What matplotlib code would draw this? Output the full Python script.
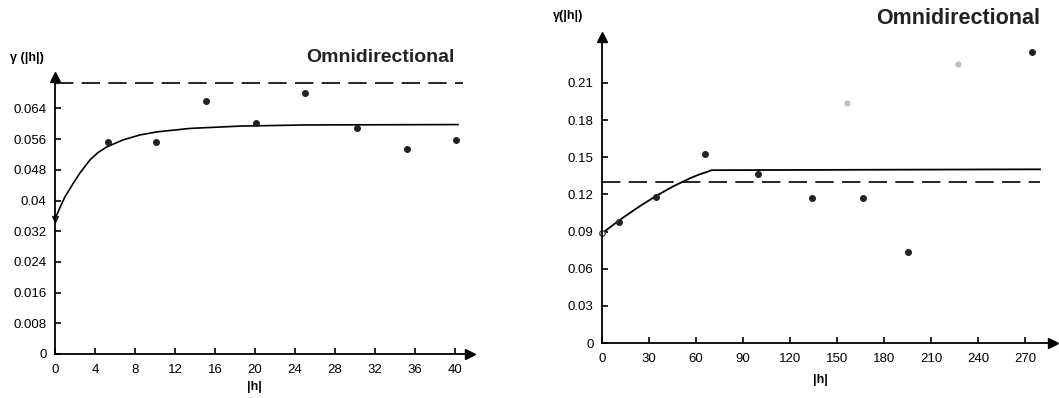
import matplotlib.pyplot as plt

plt.rcParams['font.family'] = ['Liberation Sans', 'DejaVu Sans']

# left panel: experimental variogram points
left_h = [0, 5.3, 10.1, 15.1, 20.1, 25.0, 30.2, 35.2, 40.1]
left_g = [0.0352, 0.0552, 0.0552, 0.0659, 0.0602, 0.0680, 0.0589, 0.0534, 0.0558]
# fitted model
left_fit_h = [0, 0.5, 1, 1.83, 2.5, 3.5, 4.3, 5.2, 6.8, 8.5, 10.2, 13.5, 18.5, 25, 40.3]
left_fit_g = [0.0352, 0.0382, 0.0410, 0.0445, 0.0472, 0.0506, 0.0525, 0.0540, 0.0558,
              0.0571, 0.0579, 0.0588, 0.0594, 0.0597, 0.0598]
left_sill = 0.0706
left_xticks = [0, 4, 8, 12, 16, 20, 24, 28, 32, 36, 40]
left_yticks = [0, 0.008, 0.016, 0.024, 0.032, 0.04, 0.048, 0.056, 0.064]
left_ylabels = ['0', '0.008', '0.016', '0.024', '0.032', '0.04', '0.048', '0.056', '0.064']

# right panel
right_h = [10.8, 34.5, 65.7, 99.6, 134, 166.5, 195.5, 274.5]
right_g = [0.0977, 0.118, 0.1527, 0.1365, 0.117, 0.117, 0.0735, 0.235]
right_faint_h = [156.5, 227]
right_faint_g = [0.194, 0.2254]
right_fit_h = [0, 11.5, 24.2, 34.9, 45.5, 56.2, 62, 66.8, 70, 279.5]
right_fit_g = [0.0885, 0.0995, 0.1105, 0.1190, 0.1265, 0.1330, 0.1360, 0.1380, 0.1395, 0.1402]
right_sill = 0.1303
right_xticks = [0, 30, 60, 90, 120, 150, 180, 210, 240, 270]
right_yticks = [0, 0.03, 0.06, 0.09, 0.12, 0.15, 0.18, 0.21]
right_ylabels = ['0', '0.03', '0.06', '0.09', '0.12', '0.15', '0.18', '0.21']

W, H = 1059, 398
fig = plt.figure(figsize=(W / 100, H / 100), dpi=100)


def make_axes(x0, y0, x1, y1):
    return fig.add_axes([x0 / W, 1 - y0 / H, (x1 - x0) / W, (y0 - y1) / H])


def style(ax, xmax, ymax, xticks, yticks, ylabels):
    ax.set_xlim(0, xmax)
    ax.set_ylim(0, ymax)
    for s in ['top', 'right']:
        ax.spines[s].set_visible(False)
    for s in ['left', 'bottom']:
        ax.spines[s].set_linewidth(1.3)
    ax.set_xticks(xticks)
    ax.set_xticklabels([str(t) for t in xticks])
    ax.set_yticks(yticks)
    ax.set_yticklabels(ylabels)
    ax.tick_params(direction='in', length=4, width=1.2, labelsize=9.5)
    ax.tick_params(axis='x', pad=7)
    ax.tick_params(axis='y', pad=6)
    ax.plot(1, 0, marker='>', ms=7, color='black', transform=ax.transAxes, clip_on=False)
    ax.plot(0, 1, marker='^', ms=7, color='black', transform=ax.transAxes, clip_on=False)


# left chart
ax1 = make_axes(55, 354, 470, 77)
style(ax1, 41.5, 0.0722, left_xticks, left_yticks, left_ylabels)
ax1.plot([0, 40.8], [left_sill, left_sill], color='black', lw=1.2, dashes=(11, 5))
ax1.plot(left_fit_h, left_fit_g, color='black', lw=1.2)
ax1.plot(left_h[1:], left_g[1:], 'o', color='#222222', ms=4)
ax1.plot(left_h[:1], left_g[:1], 'v', color='#222222', ms=5, clip_on=False)
fig.text(455 / W, 1 - 58 / H, 'Omnidirectional', ha='right', va='center',
         fontsize=14, fontweight='bold', color='#222222')
fig.text(10 / W, 1 - 58 / H, 'γ (|h|)', ha='left', va='center', fontsize=9,
         fontweight='bold')
fig.text(254 / W, 1 - 387 / H, '|h|', ha='center', va='center', fontsize=9,
         fontweight='bold')

# right chart
ax2 = make_axes(602, 343, 1053, 37)
style(ax2, 287.8, 0.247, right_xticks, right_yticks, right_ylabels)
ax2.plot([0, 279.5], [right_sill, right_sill], color='black', lw=1.2, dashes=(11, 5))
ax2.plot(right_fit_h, right_fit_g, color='black', lw=1.3)
ax2.plot(right_h, right_g, 'o', color='#222222', ms=4)
ax2.plot(right_faint_h, right_faint_g, 'o', color='#b8c4c8', ms=3.5)
ax2.plot(right_fit_h[:1], right_fit_g[:1], 'o', mfc='white', mec='#444444', ms=4,
         clip_on=False)
fig.text(1040 / W, 1 - 18 / H, 'Omnidirectional', ha='right', va='center',
         fontsize=15.5, fontweight='bold', color='#222222')
fig.text(553 / W, 1 - 16 / H, 'γ(|h|)', ha='left', va='center', fontsize=9,
         fontweight='bold')
fig.text(820 / W, 1 - 380 / H, '|h|', ha='center', va='center', fontsize=9,
         fontweight='bold')

fig.savefig('out.png', dpi=100)
